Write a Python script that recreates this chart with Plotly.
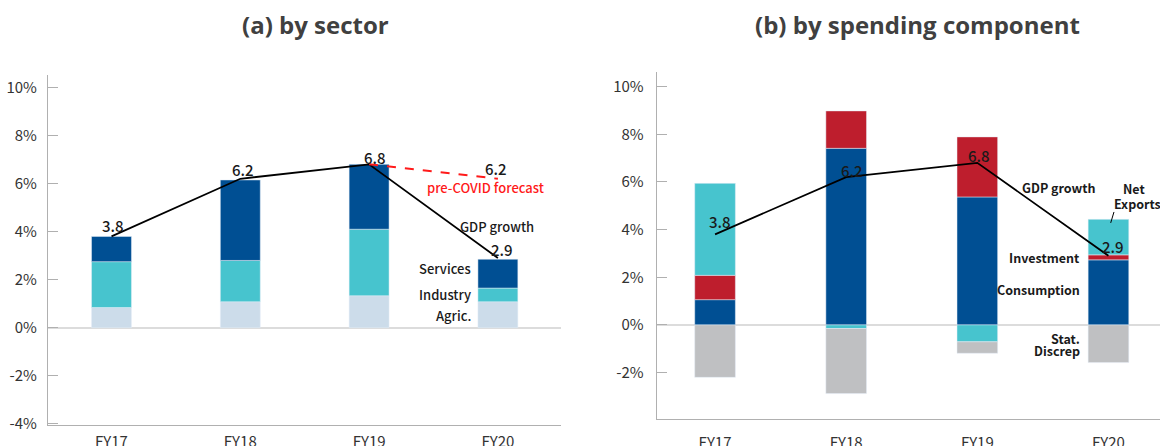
import plotly.graph_objects as go

# ---------------- data ----------------
years = ["FY17", "FY18", "FY19", "FY20"]
gdp = [3.8, 6.2, 6.8, 2.9]
gdp_labels = ["3.8", "6.2", "6.8", "2.9"]
precovid_years = ["FY19", "FY20"]
precovid = [6.8, 6.2]
precovid_label = "6.2"

agric = [0.84, 1.08, 1.33, 1.08]
industry = [1.91, 1.72, 2.77, 0.57]
services = [1.05, 3.35, 2.70, 1.20]

consumption = [1.06, 7.41, 5.37, 2.73]
investment = [1.02, 1.57, 2.52, 0.21]
net_exports = [3.86, -0.15, -0.71, 1.49]
stat_discrep = [-2.20, -2.73, -0.48, -1.58]

ytick_vals = [-4, -2, 0, 2, 4, 6, 8, 10]
ytick_text = ["-4%", "-2%", "0%", "2%", "4%", "6%", "8%", "10%"]

# ---------------- style ----------------
FONT = "Noto Sans CJK JP"
TFONT = "Open Sans"
DARK = "#004F93"
TEAL = "#47C4CE"
LIGHT = "#CCDCEA"
RED = "#BE1E2D"
GRAY = "#BFC0C2"
TXT = "#1a1a1a"

W, H = 1160, 446

fig = go.Figure()

# left panel
fig.add_bar(x=years, y=agric, marker_color=LIGHT, xaxis="x", yaxis="y", name="Agric.")
fig.add_bar(x=years, y=industry, marker_color=TEAL, xaxis="x", yaxis="y", name="Industry")
fig.add_bar(x=years, y=services, marker_color=DARK, xaxis="x", yaxis="y", name="Services")
fig.add_scatter(x=years, y=gdp, mode="lines", line=dict(color="black", width=1.8),
                xaxis="x", yaxis="y", name="GDP growth")
fig.add_scatter(x=precovid_years, y=precovid, mode="lines",
                line=dict(color="#FF1A1A", width=2, dash="dash"),
                xaxis="x", yaxis="y", name="pre-COVID forecast")

# right panel
fig.add_bar(x=years, y=consumption, marker_color=DARK, xaxis="x2", yaxis="y2", name="Consumption")
fig.add_bar(x=years, y=investment, marker_color=RED, xaxis="x2", yaxis="y2", name="Investment")
fig.add_bar(x=years, y=net_exports, marker_color=TEAL, xaxis="x2", yaxis="y2", name="Net Exports")
fig.add_bar(x=years, y=stat_discrep, marker_color=GRAY, xaxis="x2", yaxis="y2", name="Stat. Discrep")
fig.add_scatter(x=years, y=gdp, mode="lines", line=dict(color="black", width=1.8),
                xaxis="x2", yaxis="y2", name="GDP growth")

axis_common = dict(showgrid=False, showline=True, linecolor="#B0B0B0", linewidth=1.2,
                   automargin=False,
                   tickfont=dict(family=FONT, size=15, color="#333333"))

fig.update_layout(
    width=W, height=H, autosize=False,
    margin=dict(l=0, r=0, t=0, b=0, pad=0),
    paper_bgcolor="white", plot_bgcolor="white",
    barmode="relative", bargap=0.69,
    showlegend=False,
    font=dict(family=FONT, color=TXT),
    xaxis=dict(domain=[48 / W, 561 / W], range=[-0.493, 3.49], type="category",
               anchor="y", ticks="", ticklabelstandoff=3, **axis_common),
    yaxis=dict(domain=[1 - 425 / H, 1 - 75 / H], range=[-4.05, 10.52], anchor="x",
               tickvals=ytick_vals, ticktext=ytick_text, ticks="inside", ticklen=10,
               tickcolor="#B0B0B0", ticklabelstandoff=7,
               zeroline=True, zerolinecolor="#DCDCDC", zerolinewidth=1.5, **axis_common),
    xaxis2=dict(domain=[656.7 / W, 1.0], range=[-0.445, 3.393], type="category",
                anchor="y2", ticks="", ticklabelstandoff=10, **axis_common),
    yaxis2=dict(domain=[1 - 419.3 / H, 1 - 72.3 / H], range=[-3.96, 10.6], anchor="x2",
                tickvals=ytick_vals, ticktext=ytick_text, ticks="inside", ticklen=10,
                tickcolor="#B0B0B0", ticklabelstandoff=9,
                zeroline=True, zerolinecolor="#DCDCDC", zerolinewidth=1.5, **axis_common),
)

ann = []


def add(text, x, y, xref, yref, size=14, color=TXT, weight="normal", xanchor="center",
        yanchor="middle", xshift=0, yshift=0, family=FONT):
    ann.append(dict(text=text, x=x, y=y, xref=xref, yref=yref, showarrow=False,
                    font=dict(family=family, size=size, color=color, weight=weight),
                    xanchor=xanchor, yanchor=yanchor, xshift=xshift, yshift=yshift))


# titles
add("(a) by sector", 315.5 / W, 1 - 24 / H, "paper", "paper", size=24, color="#404040",
    weight="bold", family=TFONT)
add("(b) by spending component", 917 / W, 1 - 24 / H, "paper", "paper", size=24,
    color="#404040", weight="bold", family=TFONT)

# left panel labels
lshifts = [(1.5, 11), (3, 9.5), (5.5, 7), (4, 9)]
for i, yr in enumerate(years):
    add(gdp_labels[i], yr, gdp[i], "x", "y", size=15, weight=500,
        xshift=lshifts[i][0], yshift=lshifts[i][1])
add(precovid_label, precovid_years[1], precovid[1], "x", "y", size=15, weight=500,
    xshift=-2, yshift=10.5)
add("pre-COVID forecast", 2.906, 5.85, "x", "y", size=13, color="#FF1A1A", weight=500)
add("GDP growth", 2.995, 4.23, "x", "y", size=13, weight=500)
add("Services", 2.805, 2.48, "x", "y", size=13, weight=500, xanchor="right")
add("Industry", 2.805, 1.40, "x", "y", size=13, weight=500, xanchor="right")
add("Agric.", 2.805, 0.49, "x", "y", size=13, weight=500, xanchor="right")

# right panel labels
rshifts = [(5, 12.5), (6, 7), (2, 7), (5, 9)]
for i, yr in enumerate(years):
    add(gdp_labels[i], yr, gdp[i], "x2", "y2", size=15, weight=500,
        xshift=rshifts[i][0], yshift=rshifts[i][1])
add("GDP growth", 2.623, 5.75, "x2", "y2", size=12.5, weight="bold")
add("Net", 3.195, 5.71, "x2", "y2", size=12.5, weight="bold")
add("Exports", 3.218, 5.08, "x2", "y2", size=12.5, weight="bold")
add("Investment", 2.797, 2.85, "x2", "y2", size=12.5, weight="bold", xanchor="right")
add("Consumption", 2.797, 1.47, "x2", "y2", size=12.5, weight="bold", xanchor="right")
add("Stat.", 2.797, -0.55, "x2", "y2", size=12.5, weight="bold", xanchor="right")
add("Discrep", 2.797, -1.08, "x2", "y2", size=12.5, weight="bold", xanchor="right")

fig.update_layout(annotations=ann)

# leader line for Net Exports label
fig.add_shape(type="line", xref="x2", yref="y2", x0=3.042, y0=4.74, x1=3.017, y1=4.28,
              line=dict(color="black", width=1))

fig.write_html("out.html", config={"displayModeBar": False},
               post_script="document.body.style.margin='0';")
